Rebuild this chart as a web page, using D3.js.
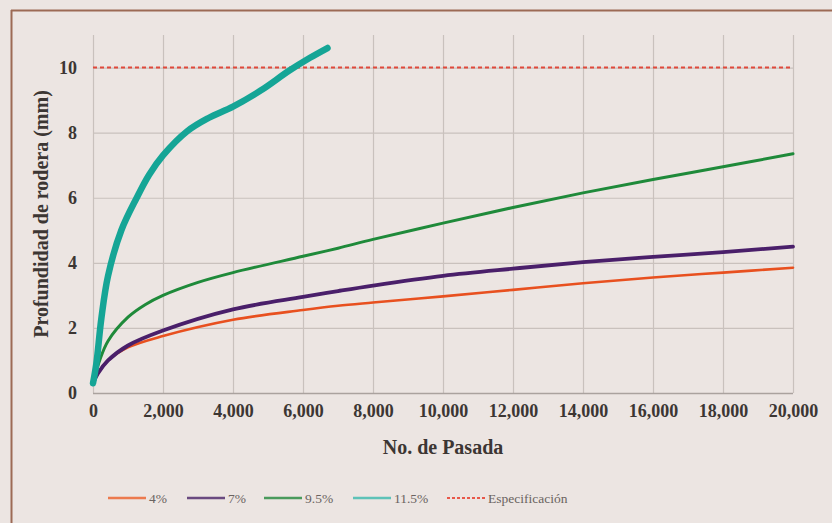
<!DOCTYPE html>
<html><head><meta charset="utf-8">
<script src="https://cdn.jsdelivr.net/npm/d3@7"></script>
<style>body{margin:0;background:#ece5e2}svg{display:block}</style>
</head><body><svg id="c" width="832" height="523"></svg>
<script>
const xTicks=[0,2000,4000,6000,8000,10000,12000,14000,16000,18000,20000];
const yTicks=[0,2,4,6,8,10];
const spec=10;
const s4=[[0,0.3],[140,0.6],[430,1.0],[1000,1.4],[2000,1.75],[4000,2.25],[6000,2.55],[7000,2.68],[8000,2.78],[10000,2.97],[12000,3.17],[14000,3.37],[16000,3.55],[18000,3.7],[20000,3.85]];
const s7=[[0,0.3],[140,0.6],[430,1.0],[1000,1.46],[2000,1.92],[4000,2.57],[6000,2.95],[7000,3.13],[8000,3.3],[10000,3.6],[12000,3.82],[14000,4.02],[16000,4.18],[18000,4.33],[20000,4.5]];
const s95=[[0,0.3],[50,0.5],[190,1.0],[430,1.6],[1000,2.33],[1500,2.72],[2000,3.0],[3000,3.4],[4000,3.7],[6000,4.2],[7000,4.45],[8000,4.72],[10000,5.22],[12000,5.7],[14000,6.15],[16000,6.56],[18000,6.95],[20000,7.35]];
const s115=[[0,0.3],[95,0.9],[240,2.3],[430,3.6],[810,5.0],[1250,6.0],[1600,6.7],[2000,7.3],[2700,8.05],[3300,8.45],[4000,8.8],[4800,9.3],[5600,9.9],[6200,10.3],[6700,10.6]];
const seriesNames=["4%","7%","9.5%","11.5%"];
const seriesData=[s4,s7,s95,s115];
const colors=["#e8501f","#4a1f6a","#1f8a3a","#15a596"];
const widths=[2.6,3.8,3,6.5];
const legendColors=["#ec7a4e","#6a4a80","#4a9a5c","#5ec2b8"];

const svg=d3.select("#c");
const font="'Liberation Serif','Times New Roman',serif";
svg.append("line").attr("x1",11).attr("x2",832).attr("y1",10.5).attr("y2",10.5).attr("stroke","#9c6a55").attr("stroke-width",2);
svg.append("line").attr("x1",11.5).attr("x2",11.5).attr("y1",10).attr("y2",523).attr("stroke","#9c6a55").attr("stroke-width",2);

const L=93,R=793,T=35,B=393;
const x=d3.scaleLinear().domain([0,20000]).range([L,R]);
const y=d3.scaleLinear().domain([0,11]).range([B,T]);
const g=svg.append("g");
g.selectAll(".vg").data(xTicks).join("line").attr("x1",d=>x(d)+0.5).attr("x2",d=>x(d)+0.5).attr("y1",T).attr("y2",B).attr("stroke","#c9c1bd").attr("stroke-width",1.2);
g.selectAll(".hg").data(yTicks.filter(d=>d>0)).join("line").attr("x1",L).attr("x2",R).attr("y1",d=>y(d)+0.5).attr("y2",d=>y(d)+0.5).attr("stroke","#c9c1bd").attr("stroke-width",1.2);
g.append("line").attr("x1",L).attr("x2",R).attr("y1",B+0.5).attr("y2",B+0.5).attr("stroke","#aaa29e").attr("stroke-width",1.5);

const xa=d3.axisBottom(x).tickValues(xTicks).tickFormat(d3.format(",")).tickSize(0).tickPadding(10);
const xg=svg.append("g").attr("transform",`translate(0,${B})`).call(xa);
xg.select(".domain").remove();
xg.selectAll("text").attr("font-family",font).attr("font-size",18).attr("fill","#3c3633").attr("font-weight","bold").attr("dy","0.75em");
const ya=d3.axisLeft(y).tickValues(yTicks).tickSize(0).tickPadding(16);
const yg=svg.append("g").attr("transform",`translate(${L},0)`).call(ya);
yg.select(".domain").remove();
yg.selectAll("text").attr("font-family",font).attr("font-size",18).attr("fill","#3c3633").attr("font-weight","bold");

svg.append("text").attr("x",443).attr("y",454).attr("text-anchor","middle").attr("font-family",font).attr("font-size",20).attr("font-weight","bold").attr("fill","#3c3633").text("No. de Pasada");
svg.append("text").attr("transform","translate(48,214) rotate(-90)").attr("text-anchor","middle").attr("font-family",font).attr("font-size",20).attr("font-weight","bold").attr("fill","#3c3633").text("Profundidad de rodera (mm)");

svg.append("line").attr("x1",L).attr("x2",R).attr("y1",y(spec)).attr("y2",y(spec)).attr("stroke","#e0483a").attr("stroke-width",2).attr("stroke-dasharray","4,3");

const line=d3.line().x(d=>x(d[0])).y(d=>y(d[1])).curve(d3.curveCatmullRom.alpha(0.5));
seriesData.forEach((s,i)=>{
  svg.append("path").datum(s).attr("d",line).attr("fill","none").attr("stroke",colors[i]).attr("stroke-width",widths[i]).attr("stroke-linecap","round").attr("stroke-linejoin","round");
});

const leg=[{n:"4%",x:108},{n:"7%",x:187},{n:"9.5%",x:264},{n:"11.5%",x:353},{n:"Especificación",x:447}];
const ly=498;
leg.forEach((l,i)=>{
  const ln=svg.append("line").attr("x1",l.x).attr("x2",l.x+38).attr("y1",ly).attr("y2",ly).attr("stroke-width",i<4?2.6:2);
  if(i<4) ln.attr("stroke",legendColors[i]); else ln.attr("stroke","#e8584a").attr("stroke-dasharray","3,2");
  svg.append("text").attr("x",l.x+41).attr("y",ly+4.5).attr("font-family",font).attr("font-size",13.5).attr("fill","#6a6360").text(l.n);
});
</script></body></html>
